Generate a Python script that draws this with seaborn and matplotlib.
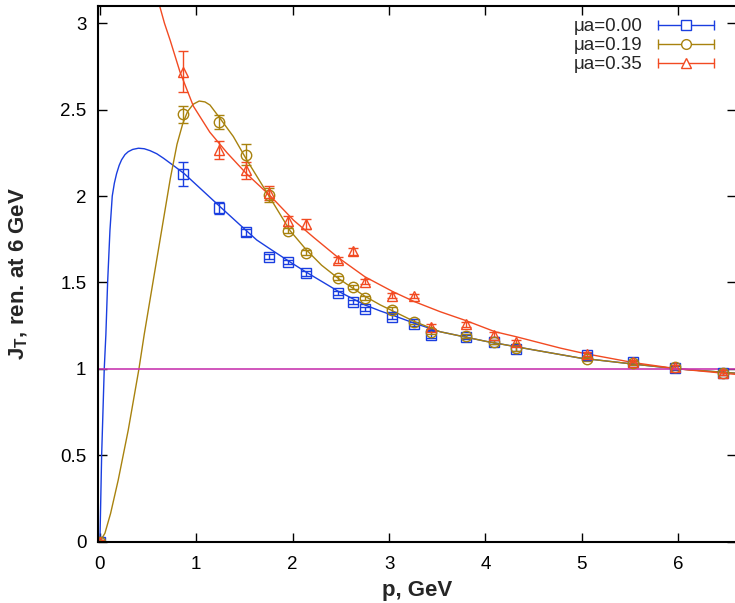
import numpy as np
import pandas as pd
import matplotlib
matplotlib.use("Agg")
import matplotlib.pyplot as plt
import seaborn as sns
from matplotlib.lines import Line2D
from matplotlib.legend_handler import HandlerBase

# данные: импульс p и J_T для трёх значений mu*a
p = [0, 0.86, 1.24, 1.52, 1.75, 1.955, 2.14, 2.47, 2.63, 2.75,
     3.035, 3.26, 3.44, 3.80, 4.09, 4.32, 5.05, 5.53, 5.97, 6.46]

jt_000 = [0, 2.13, 1.93, 1.79, 1.65, 1.62, 1.553, 1.437, 1.389, 1.347,
          1.302, 1.26, 1.197, 1.183, 1.158, 1.116, 1.08, 1.039, 1.004, 0.979]
err_000 = [0.01, 0.07, 0.035, 0.02, 0.015, 0.012, 0.015, 0.012, 0.012, 0.012,
           0.015, 0.012, 0.02, 0.012, 0.012, 0.015, 0.012, 0.012, 0.012, 0.012]

jt_019 = [0, 2.474, 2.43, 2.24, 2.006, 1.80, 1.673, 1.524, 1.476, 1.409,
          1.341, 1.274, 1.216, 1.19, 1.158, 1.12, 1.056, 1.033, 1.013, 0.979]
err_019 = [0.01, 0.05, 0.04, 0.06, 0.04, 0.015, 0.015, 0.012, 0.012, 0.012,
           0.015, 0.012, 0.015, 0.012, 0.012, 0.015, 0.012, 0.012, 0.012, 0.012]

jt_035 = [0, 2.72, 2.266, 2.15, 2.016, 1.857, 1.838, 1.63, 1.68, 1.505,
          1.424, 1.424, 1.245, 1.258, 1.197, 1.154, 1.087, 1.039, 1.01, 0.979]
err_035 = [0.01, 0.12, 0.05, 0.05, 0.04, 0.03, 0.03, 0.02, 0.02, 0.015,
           0.015, 0.012, 0.015, 0.015, 0.015, 0.015, 0.012, 0.012, 0.012, 0.012]

# фит-кривые
fit_000_x = [0, 0.018, 0.045, 0.062, 0.08, 0.104, 0.128, 0.15, 0.173, 0.20, 0.225,
             0.26, 0.294, 0.34, 0.40, 0.46, 0.52, 0.59, 0.66, 0.76, 0.875, 1.05,
             1.246, 1.454, 1.627, 1.75, 1.955, 2.14, 2.47, 2.75, 2.91, 3.04, 3.26,
             3.53, 4.0, 4.5, 4.98, 5.5, 6.0, 6.6]
fit_000_y = [0, 0.5, 1.0, 1.2, 1.5, 1.8, 2.0, 2.075, 2.13, 2.178, 2.21,
             2.24, 2.257, 2.27, 2.277, 2.274, 2.263, 2.245, 2.219, 2.178, 2.13, 2.04,
             1.939, 1.833, 1.746, 1.70, 1.625, 1.56, 1.45, 1.37, 1.335, 1.31, 1.265,
             1.215, 1.16, 1.11, 1.063, 1.03, 1.0, 0.975]

fit_019_x = [0, 0.052, 0.111, 0.19, 0.294, 0.405, 0.46, 0.55, 0.64, 0.73, 0.80,
             0.86, 0.91, 0.969, 1.03, 1.09, 1.142, 1.246, 1.384, 1.523, 1.748, 1.973,
             2.14, 2.30, 2.47, 2.63, 2.75, 2.91, 3.04, 3.26, 3.53, 4.0, 4.5, 4.98,
             5.5, 6.0, 6.6]
fit_019_y = [0, 0.049, 0.164, 0.357, 0.646, 1.0, 1.2, 1.50, 1.80, 2.10, 2.30,
             2.42, 2.49, 2.532, 2.55, 2.545, 2.527, 2.45, 2.345, 2.21, 2.006, 1.80,
             1.69, 1.60, 1.525, 1.465, 1.42, 1.37, 1.335, 1.275, 1.215, 1.16, 1.11,
             1.063, 1.03, 1.0, 0.975]

fit_035_x = [0.58, 0.62, 0.67, 0.73, 0.83, 0.97, 1.14, 1.32, 1.52, 1.77, 2.01,
             2.22, 2.47, 2.75, 3.04, 3.26, 3.53, 3.80, 4.10, 4.32, 4.78, 5.02,
             5.54, 6.0, 6.6]
fit_035_y = [3.22, 3.10, 3.00, 2.90, 2.72, 2.52, 2.37, 2.25, 2.13, 2.00, 1.86,
             1.76, 1.645, 1.533, 1.447, 1.39, 1.331, 1.279, 1.215, 1.186, 1.12, 1.09,
             1.036, 1.0, 0.968]

labels = ["μa=0.00", "μa=0.19", "μa=0.35"]
colors = ["#1a3ee0", "#a8820e", "#f24a22"]
markers = ["s", "o", "^"]

sns.set_style("ticks")
plt.rcParams["font.family"] = ["Liberation Sans", "DejaVu Sans"]
plt.rcParams["mathtext.fontset"] = "custom"
plt.rcParams["mathtext.rm"] = "Liberation Sans"
plt.rcParams["mathtext.bf"] = "Liberation Sans:bold"

fig = plt.figure(figsize=(7.35, 6.03), dpi=100)
ax = fig.add_axes([97.5 / 735, 61.3 / 603, 638.5 / 735, 535.7 / 603])

series = [(jt_000, err_000), (jt_019, err_019), (jt_035, err_035)]
for (y, e), c, m in zip(series, colors, markers):
    ax.errorbar(p, y, yerr=e, fmt=m, ms=7.5, mfc="none", mec=c, mew=1.0,
                ecolor=c, elinewidth=1.0, capsize=3.5, capthick=1.0)

fits = [(fit_000_x, fit_000_y), (fit_019_x, fit_019_y), (fit_035_x, fit_035_y)]
for (fx, fy), c in zip(fits, colors):
    df = pd.DataFrame({"p": fx, "J": fy})
    sns.lineplot(data=df, x="p", y="J", sort=False, color=c, lw=1.0, ax=ax)

ax.axhline(1.0, color="#c838b0", lw=1.2)

ax.set_xlim(-0.025, 6.6)
ax.set_ylim(0, 3.1)
ax.set_xticks(range(0, 7))
ax.set_yticks([0, 0.5, 1, 1.5, 2, 2.5, 3])
ax.set_yticklabels(["0", "0.5", "1", "1.5", "2", "2.5", "3"])
ax.tick_params(direction="in", length=6.5, width=1.0, top=True, right=True,
               labelsize=13.5, colors="black")
ax.tick_params(axis="x", pad=10)
ax.tick_params(axis="y", pad=8)
for s in ax.spines.values():
    s.set_linewidth(1.5)
    s.set_color("black")

ax.set_xlabel("p, GeV", fontsize=16, fontweight="bold", va="top")
ax.xaxis.set_label_coords(0.5, -0.072)
ax.set_ylabel(r"$\mathbf{J_T}$, ren. at 6 GeV", fontsize=16, fontweight="bold")
ax.yaxis.set_label_coords(-0.105, 0.5)


# ключ в стиле gnuplot: горизонтальная линия с засечками и маркером посередине
class KeyHandler(HandlerBase):
    def create_artists(self, legend, orig_handle, xdescent, ydescent,
                       width, height, fontsize, trans):
        c = orig_handle.get_color()
        yc = height / 2 - ydescent
        x0, x1 = -xdescent, width - xdescent
        line = Line2D([x0, x1], [yc, yc], color=c, lw=1.0, transform=trans)
        caps = Line2D([x0, x1], [yc, yc], ls="none", marker="|", ms=7,
                      mew=1.0, color=c, transform=trans)
        mid = Line2D([(x0 + x1) / 2], [yc], ls="none", marker=orig_handle.get_marker(),
                     ms=7, mfc="white", mec=c, mew=1.0, transform=trans)
        return [line, caps, mid]


handles = [Line2D([], [], color=c, marker=m) for c, m in zip(colors, markers)]
ax.legend(handles, labels, handler_map={Line2D: KeyHandler()},
          loc="upper right", bbox_to_anchor=(714 / 735, 585 / 603),
          bbox_transform=fig.transFigure, frameon=False, markerfirst=False,
          fontsize=13.5, handlelength=3.0, handletextpad=0.8, labelspacing=0.1,
          borderpad=0, borderaxespad=0)

fig.savefig("out.png", dpi=100)
